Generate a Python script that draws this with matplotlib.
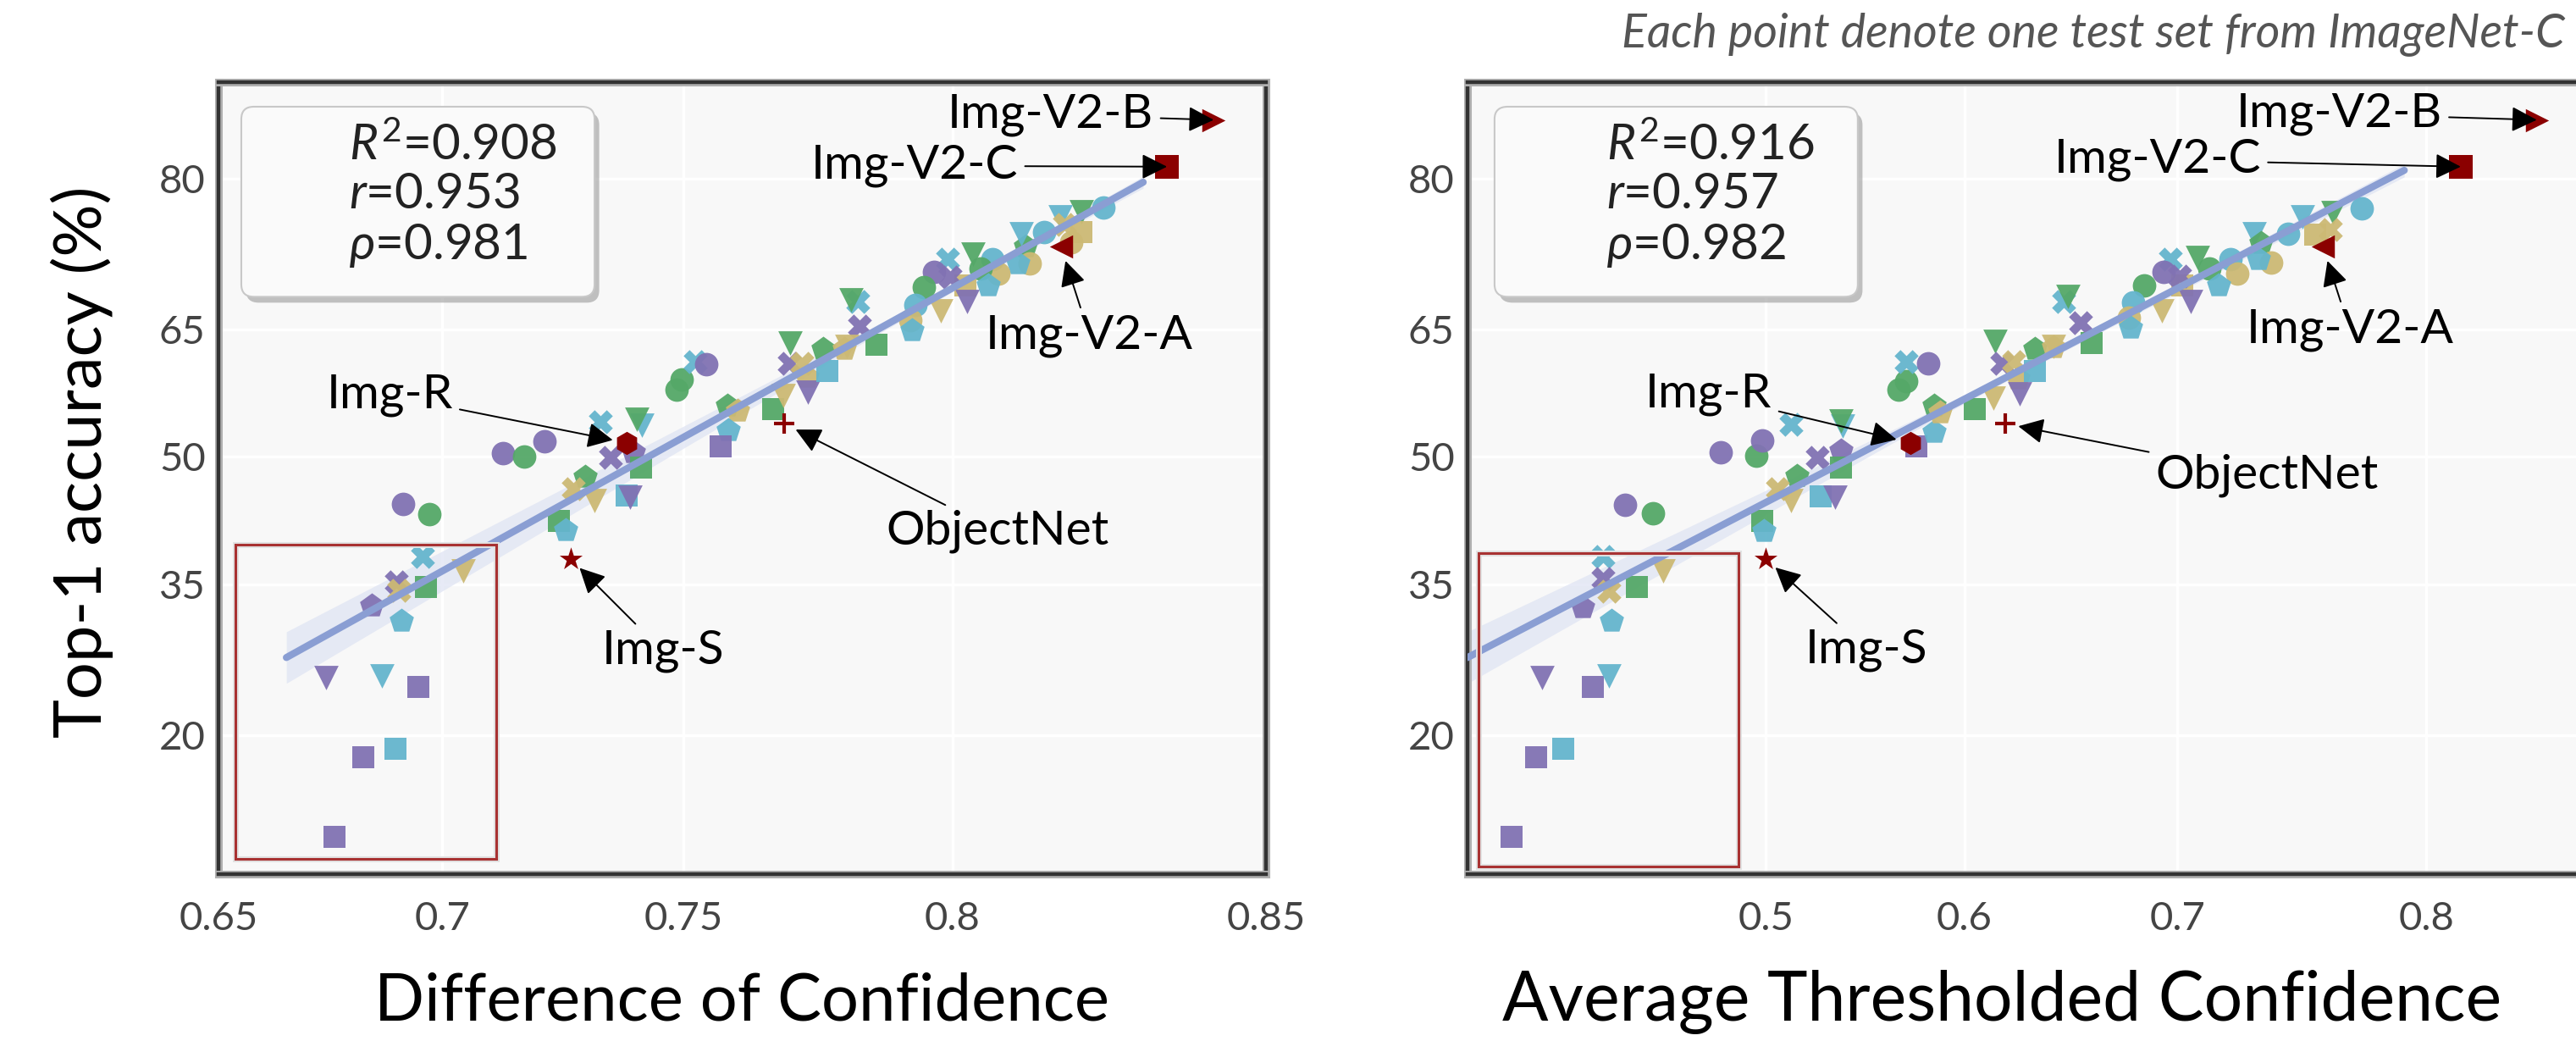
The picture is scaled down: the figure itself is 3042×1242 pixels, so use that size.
import numpy as np
import matplotlib
matplotlib.use("Agg")
import matplotlib.pyplot as plt
from matplotlib.patches import FancyBboxPatch, Rectangle
import matplotlib.patheffects as pe
from statistics import NormalDist

# ---------------- data ----------------
# Difference of Confidence panel: x = DoC, y = top-1 accuracy (%)
dc_x = [0.690, 0.6905, 0.6957, 0.6965, 0.6846, 0.6911, 0.7046, 0.6744, 0.6869, 0.6948,
        0.6827, 0.6899, 0.6764,
        0.6914, 0.6972, 0.7130, 0.7174, 0.7218, 0.7332, 0.7353, 0.7400, 0.7417, 0.7406,
        0.7415, 0.7301, 0.7277, 0.7320, 0.7386, 0.7393, 0.7248, 0.7262,
        0.7486, 0.7496, 0.7522, 0.7545, 0.7585, 0.7606, 0.7588, 0.7572, 0.7673,
        0.7705, 0.7704, 0.7727, 0.7737, 0.7692, 0.7739, 0.7775, 0.7767, 0.7806,
        0.8252, 0.8216, 0.8216, 0.8200, 0.8182, 0.8189, 0.8155, 0.8125, 0.8118, 0.8131,
        0.8112, 0.8069, 0.8079, 0.8036, 0.8048, 0.8062, 0.8022, 0.8025, 0.7980, 0.7992,
        0.7968, 0.7996, 0.7950, 0.7935, 0.7925, 0.7929, 0.7865, 0.7834, 0.7831, 0.7819,
        0.7811]
dc_y = [35.3, 34.3, 38.2, 34.7, 32.6, 31.0, 36.5, 25.2, 25.4, 24.3,
        18.2, 18.9, 12.5,
        44.3, 43.1, 50.5, 50.0, 51.9, 54.2, 49.9, 50.6, 53.8, 54.5,
        48.7, 47.6, 46.2, 44.7, 45.4, 45.2, 42.3, 41.2,
        58.1, 59.3, 61.3, 61.0, 56.2, 55.5, 53.2, 51.3, 55.8,
        63.5, 61.1, 61.1, 59.6, 57.4, 57.8, 60.3, 62.8, 62.8,
        77.5, 77.1, 75.2, 74.2, 76.6, 75.9, 75.2, 73.8, 75.0, 72.1,
        72.1, 72.5, 71.0, 73.0, 71.6, 69.8, 69.8, 68.1, 67.1, 72.5,
        71.2, 70.7, 69.6, 67.7, 66.0, 64.9, 63.3, 65.4, 68.1, 68.3,
        63.1]
dc_grp = ["P", "T", "C", "G", "P", "C", "T", "P", "C", "P",
          "P", "C", "P",
          "P", "G", "P", "G", "P", "C", "P", "P", "C", "G",
          "G", "G", "T", "T", "C", "P", "G", "C",
          "G", "G", "C", "P", "G", "T", "C", "P", "G",
          "G", "P", "T", "T", "T", "P", "C", "G", "T",
          "C", "G", "T", "T", "C", "T", "C", "G", "C", "T",
          "C", "C", "T", "G", "G", "C", "T", "P", "T", "C",
          "P", "P", "G", "C", "T", "C", "G", "P", "C", "G",
          "T"]
dc_mk = ["X", "X", "X", "s", "p", "p", "v", "v", "v", "s",
         "s", "s", "s",
         "o", "o", "o", "o", "o", "X", "X", "p", "v", "v",
         "s", "p", "X", "v", "s", "v", "s", "p",
         "o", "o", "X", "o", "p", "p", "p", "s", "s",
         "v", "X", "X", "p", "v", "v", "s", "p", "p",
         "o", "v", "s", "o", "v", "X", "o", "p", "v", "o",
         "p", "o", "o", "v", "o", "p", "s", "v", "v", "X",
         "o", "X", "o", "o", "o", "p", "s", "X", "X", "v",
         "v"]

# Average Thresholded Confidence panel
atc_x = [0.418, 0.418, 0.421, 0.408, 0.422, 0.435, 0.448, 0.388, 0.413, 0.421,
         0.385, 0.398, 0.373,
         0.429, 0.443, 0.477, 0.495, 0.498, 0.513, 0.539, 0.538, 0.526, 0.538,
         0.538, 0.516, 0.506, 0.513, 0.528, 0.535, 0.498, 0.499,
         0.576, 0.585, 0.585, 0.588, 0.567, 0.571, 0.571, 0.582, 0.605,
         0.615, 0.618, 0.624, 0.626, 0.614, 0.627, 0.634, 0.634, 0.643,
         0.776, 0.765, 0.753, 0.747, 0.758, 0.764, 0.733, 0.736, 0.740, 0.735,
         0.723, 0.726, 0.709, 0.714, 0.718, 0.702, 0.706, 0.693, 0.697, 0.694,
         0.701, 0.685, 0.680, 0.678, 0.679, 0.661, 0.656, 0.648, 0.650, 0.643]
atc_y = [38.2, 35.7, 34.2, 32.5, 31.0, 34.7, 36.5, 25.2, 24.3, 25.4,
         18.2, 18.9, 12.5,
         44.2, 43.2, 50.6, 50.1, 52.0, 53.9, 53.7, 54.3, 49.9, 50.8,
         48.7, 47.7, 46.2, 44.7, 45.3, 45.2, 42.3, 41.1,
         51.3, 53.0, 56.2, 55.3, 58.1, 59.1, 61.3, 61.1, 55.7,
         63.7, 61.1, 61.3, 59.4, 57.1, 57.6, 60.3, 62.8, 63.0,
         77.4, 77.0, 76.6, 75.0, 74.9, 75.4, 75.0, 74.1, 72.2, 72.5,
         72.5, 71.0, 72.7, 71.6, 69.8, 69.8, 68.1, 67.1, 72.5, 71.2,
         70.8, 69.8, 68.0, 66.3, 65.2, 63.5, 65.8, 68.1, 68.6, 63.1]
atc_grp = ["C", "P", "T", "P", "C", "G", "T", "P", "P", "C",
           "P", "C", "P",
           "P", "G", "P", "G", "P", "C", "C", "G", "P", "P",
           "G", "G", "T", "T", "C", "P", "G", "C",
           "P", "C", "G", "T", "G", "G", "C", "P", "G",
           "G", "P", "T", "T", "T", "P", "C", "G", "T",
           "C", "G", "C", "C", "T", "T", "C", "G", "T", "C",
           "C", "T", "G", "G", "C", "T", "P", "T", "C", "P",
           "P", "G", "C", "T", "C", "G", "P", "C", "G", "T"]
atc_mk = ["X", "X", "X", "p", "p", "s", "v", "v", "s", "v",
          "s", "s", "s",
          "o", "o", "o", "o", "o", "X", "v", "v", "X", "p",
          "s", "p", "X", "v", "s", "v", "s", "p",
          "s", "p", "p", "p", "o", "o", "X", "o", "s",
          "v", "X", "X", "p", "v", "v", "s", "p", "p",
          "o", "v", "v", "o", "s", "X", "v", "p", "o", "p",
          "o", "o", "v", "o", "p", "s", "v", "v", "X", "o",
          "X", "o", "o", "o", "p", "s", "X", "X", "v", "v"]

# natural-shift test sets (red markers)
shift_names = ["Img-V2-B", "Img-V2-C", "Img-V2-A", "Img-R", "ObjectNet", "Img-S"]
shift_acc = [84.6, 81.0, 73.8, 51.7, 54.0, 37.9]
shift_dc = [0.8423, 0.8352, 0.8183, 0.7386, 0.7694, 0.7271]
shift_atc = [0.837, 0.812, 0.761, 0.573, 0.620, 0.500]
shift_mk = [">", "s", "<", "h", "+", "*"]

# regression lines (end points)
dc_fit_x = [0.6655, 0.8315]
dc_fit_y = [27.2, 79.7]
atc_fit_x = [0.352, 0.792]
atc_fit_y = [27.2, 80.7]

dc_stats = ["$R^2$=0.908", "$r$=0.953", "$\\rho$=0.981"]
atc_stats = ["$R^2$=0.916", "$r$=0.957", "$\\rho$=0.982"]

y_ticks = [20, 35, 50, 65, 80]
dc_ticks = [0.65, 0.7, 0.75, 0.8, 0.85]
dc_ticklabels = ["0.65", "0.7", "0.75", "0.8", "0.85"]
atc_ticks = [0.5, 0.6, 0.7, 0.8]
atc_ticklabels = ["0.5", "0.6", "0.7", "0.8"]

# ---------------- style ----------------
FONT = "Lato"
plt.rcParams["font.family"] = [FONT, "DejaVu Sans"]
plt.rcParams["mathtext.fontset"] = "custom"
plt.rcParams["mathtext.rm"] = FONT
plt.rcParams["mathtext.it"] = FONT + ":italic"
plt.rcParams["mathtext.fallback"] = "stixsans"

COLORS = {"P": "#8172b3", "G": "#55a868", "C": "#64b5cd", "T": "#ccb974"}
SIZES = {"o": 400, "s": 370, "v": 430, "X": 420, "p": 470}
RED = "#8b0000"
LINE = "#8a9ed3"

_nd = NormalDist()
_ppf = np.vectorize(_nd.inv_cdf, otypes=[float])
_cdf = np.vectorize(_nd.cdf, otypes=[float])


def probit(v):
    v = np.clip(np.asarray(v, dtype=float), 1e-9, 1 - 1e-9)
    return _ppf(v)


def iprobit(v):
    return _cdf(np.asarray(v, dtype=float))


def probit_pct(v):
    return probit(np.asarray(v, dtype=float) / 100.0)


def iprobit_pct(v):
    return iprobit(v) * 100.0


W, H = 3042, 1242
fig = plt.figure(figsize=(W / 100, H / 100), dpi=100)
fig.patch.set_facecolor("white")

ax_l = fig.add_axes([258 / W, (H - 1032) / H, 1237 / W, 935 / H])
ax_r = fig.add_axes([1733 / W, (H - 1032) / H, 1313 / W, 935 / H])


def style_axes(ax, xlim, xticks, xticklabels):
    ax.set_xscale("function", functions=(probit, iprobit))
    ax.set_yscale("function", functions=(probit_pct, iprobit_pct))
    ax.set_xlim(*xlim)
    ax.set_ylim(10.35, 87.15)
    ax.set_facecolor("#f8f8f8")
    ax.set_xticks(xticks)
    ax.set_xticklabels(xticklabels)
    ax.set_yticks(y_ticks)
    ax.set_yticklabels([str(t) for t in y_ticks])
    ax.minorticks_off()
    ax.grid(True, color="white", lw=2.5, zorder=0)
    ax.set_axisbelow(True)
    ax.tick_params(axis="both", length=0, labelsize=34, labelcolor="#444444")
    ax.tick_params(axis="x", pad=23)
    ax.tick_params(axis="y", pad=11)
    for sp in ax.spines.values():
        sp.set_color("#333333")
        sp.set_linewidth(3.2)
        sp.set_path_effects([pe.Stroke(linewidth=6.5, foreground="#b0b0b0"), pe.Normal()])


def draw_band(ax, fx, fy, hw_end_left, hw_mid, hw_end_right, x_mid):
    pl = probit(fx)
    py = probit_pct(fy)
    xs = np.linspace(fx[0], fx[1], 200)
    pxs = probit(xs)
    pys = py[0] + (py[1] - py[0]) * (pxs - pl[0]) / (pl[1] - pl[0])
    pm = probit(x_mid)
    kl = np.sqrt(max(hw_end_left ** 2 - hw_mid ** 2, 0)) / (pm - pl[0])
    kr = np.sqrt(max(hw_end_right ** 2 - hw_mid ** 2, 0)) / (pl[1] - pm)
    k = np.where(pxs < pm, kl, kr)
    hw = np.sqrt(hw_mid ** 2 + (k * (pxs - pm)) ** 2)
    ax.fill_between(xs, iprobit_pct(pys - hw), iprobit_pct(pys + hw),
                    color="#dfe4f3", alpha=0.75, lw=0, zorder=2.5)
    ax.plot(fx, fy, color=LINE, lw=6, solid_capstyle="round", zorder=3.5)


def draw_points(ax, xs, ys, grp, mk):
    for x, y, g, m in zip(xs, ys, grp, mk):
        ax.scatter([x], [y], s=SIZES[m], marker=m, color=COLORS[g], linewidths=0,
                   alpha=0.95, zorder=3)


def draw_shift(ax, xs):
    for x, y, m in zip(xs, shift_acc, shift_mk):
        if m == "+":
            ax.scatter([x], [y], s=300, marker=m, color=RED, linewidths=3, zorder=5)
        elif m == "*":
            ax.scatter([x], [y], s=420, marker=m, color=RED, linewidths=0, zorder=5)
        else:
            ax.scatter([x], [y], s=390, marker=m, color=RED, linewidths=0, zorder=5)


def annotate(ax, xs, offsets):
    for name, x, y, (dx, dy, ha, shrink) in zip(shift_names, xs, shift_acc, offsets):
        ax.annotate(name, xy=(x, y), xytext=(dx, dy), textcoords="offset pixels",
                    ha=ha, va="center", fontsize=41, color="black", zorder=6,
                    arrowprops=dict(arrowstyle="-|>", color="black", lw=1.4,
                                    mutation_scale=46, shrinkA=4, shrinkB=shrink))


def stats_box(ax, x0, x1, tx, lines):
    box = FancyBboxPatch((x0, 0.729), x1 - x0, 0.240, transform=ax.transAxes,
                         boxstyle="round,pad=0,rounding_size=0.012",
                         facecolor="#fafafa", edgecolor="#c8c8c8", lw=1.5, zorder=6,
                         mutation_aspect=1.3)
    box.set_path_effects([pe.SimplePatchShadow(offset=(4, -5), shadow_rgbFace="#9a9a9a",
                                               alpha=0.6), pe.Normal()])
    ax.add_patch(box)
    for ty, s in zip([0.920, 0.858, 0.794], lines):
        ax.text(tx, ty, s, transform=ax.transAxes, ha="left", va="center",
                fontsize=42, color="#222222", zorder=7)


def red_rect(ax, x0, y0, x1, y1):
    r = Rectangle((x0, y0), x1 - x0, y1 - y0, transform=ax.transAxes, fill=False,
                  edgecolor="#a83232", lw=2.2, zorder=4)
    r.set_path_effects([pe.Stroke(linewidth=5, foreground="#e2e2e2"), pe.Normal()])
    ax.add_patch(r)


# ---------------- left panel ----------------
style_axes(ax_l, (0.65, 0.85), dc_ticks, dc_ticklabels)
draw_points(ax_l, dc_x, dc_y, dc_grp, dc_mk)
draw_band(ax_l, dc_fit_x, dc_fit_y, 0.078, 0.012, 0.018, 0.80)
draw_shift(ax_l, shift_dc)
annotate(ax_l, shift_dc, [(-71, 6, "right", 0), (-176, 1, "right", 0), (34, -106, "center", 13),
                          (-280, 56, "center", 12), (252, -127, "center", 11), (109, -109, "center", 11)])
stats_box(ax_l, 0.0218, 0.359, 0.1245, dc_stats)
red_rect(ax_l, 0.0162, 0.0193, 0.265, 0.416)
ax_l.set_xlabel("Difference of Confidence", fontsize=56, color="black")
ax_l.xaxis.label.set_va("center")
ax_l.xaxis.set_label_coords(0.5, -0.1615)
ax_l.set_ylabel("Top-1 accuracy (%)", fontsize=56, color="black")
ax_l.yaxis.label.set_va("center")
ax_l.yaxis.set_label_coords(-0.130, 0.52)

# ---------------- right panel ----------------
style_axes(ax_r, (0.352, 0.85), atc_ticks, atc_ticklabels)
draw_points(ax_r, atc_x, atc_y, atc_grp, atc_mk)
draw_band(ax_r, atc_fit_x, atc_fit_y, 0.078, 0.012, 0.02, 0.62)
draw_shift(ax_r, shift_atc)
annotate(ax_r, shift_atc, [(-112, 7, "right", 0), (-236, 8, "right", 0), (32, -99, "center", 13),
                           (-238, 57, "center", 12), (309, -61, "center", 11), (119, -108, "center", 11)])
stats_box(ax_r, 0.0243, 0.351, 0.125, atc_stats)
red_rect(ax_r, 0.0099, 0.0096, 0.2437, 0.405)
ax_r.set_xlabel("Average Thresholded Confidence", fontsize=58, color="black")
ax_r.xaxis.label.set_va("center")
ax_r.xaxis.set_label_coords(0.481, -0.1615)

fig.text(3029 / W, 1 - 40 / H, "Each point denote one test set from ImageNet-C",
         ha="right", va="center", fontsize=40, style="italic", color="#555555")

fig.savefig("out.png", dpi=100, facecolor="white")
